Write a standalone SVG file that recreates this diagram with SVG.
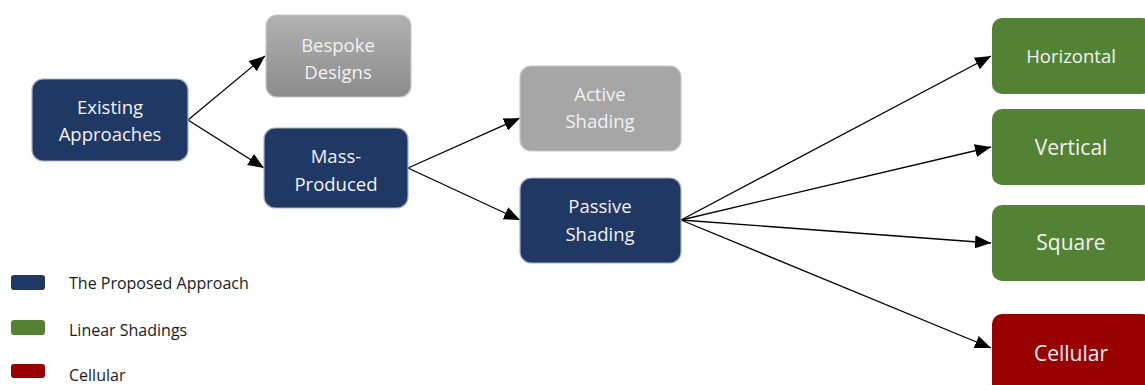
<svg xmlns="http://www.w3.org/2000/svg" width="1145" height="385" viewBox="0 0 1145 385">
  <style>
    .node { stroke-width: 1.2; }
    .navy { fill: #203864; stroke: #a9b1c0; }
    .gray { fill: #a6a6a6; stroke: #c8c8c8; }
    .green { fill: #548235; stroke: none; }
    .red { fill: #990000; stroke: none; }
    .label { font-family: "Open Sans", "Liberation Sans", sans-serif; font-size: 18.5px; fill: #f2f2f2; text-anchor: middle; }
    .big { font-size: 21px; }
    .legend { font-family: "Open Sans", "Liberation Sans", sans-serif; font-size: 16px; fill: #1a1a1a; }
    .edge { stroke: #000; stroke-width: 1.3; fill: none; marker-end: url(#arrow); }
  </style>
  <defs>
    <marker id="arrow" viewBox="0 0 10 10" refX="10" refY="5" markerWidth="16" markerHeight="13" markerUnits="userSpaceOnUse" orient="auto" preserveAspectRatio="none">
      <path d="M0,0 L10,5 L0,10 z" fill="#000"/>
    </marker>
    <linearGradient id="grayGrad" x1="0" y1="0" x2="0" y2="1">
      <stop offset="0" stop-color="#b1b1b1"/>
      <stop offset="1" stop-color="#8c8c8c"/>
    </linearGradient>
  </defs>
  <rect width="1145" height="385" fill="#ffffff"/>

  <g id="connectors">
    <line class="edge" x1="188" y1="120" x2="265" y2="56"/>
    <line class="edge" x1="188" y1="120" x2="264" y2="168"/>
    <line class="edge" x1="408" y1="168" x2="520" y2="118"/>
    <line class="edge" x1="408" y1="168" x2="520" y2="220"/>
    <line class="edge" x1="681" y1="220" x2="991" y2="56"/>
    <line class="edge" x1="681" y1="220" x2="991" y2="147"/>
    <line class="edge" x1="681" y1="220" x2="991" y2="243"/>
    <line class="edge" x1="681" y1="220" x2="991" y2="348"/>
  </g>

  <g id="existing-approaches">
    <rect class="node navy" x="32" y="79" width="156" height="82" rx="11"/>
    <text class="label" x="110" y="114">Existing</text>
    <text class="label" x="110" y="141">Approaches</text>
  </g>

  <g id="bespoke-designs">
    <rect class="node" x="266" y="15" width="145" height="82" rx="11" fill="url(#grayGrad)" stroke="#c8c8c8"/>
    <text class="label" x="338" y="52">Bespoke</text>
    <text class="label" x="338" y="79">Designs</text>
  </g>

  <g id="mass-produced">
    <rect class="node navy" x="264" y="128" width="144" height="80" rx="11"/>
    <text class="label" x="336" y="163">Mass-</text>
    <text class="label" x="336" y="191">Produced</text>
  </g>

  <g id="active-shading">
    <rect class="node gray" x="520" y="66" width="161" height="85" rx="11"/>
    <text class="label" x="600" y="101">Active</text>
    <text class="label" x="600" y="128">Shading</text>
  </g>

  <g id="passive-shading">
    <rect class="node navy" x="520" y="178" width="161" height="85" rx="11" stroke="none"/>
    <text class="label" x="600" y="213">Passive</text>
    <text class="label" x="600" y="241">Shading</text>
  </g>

  <g id="horizontal">
    <rect class="node green" x="992" y="18" width="160" height="76" rx="10"/>
    <text class="label" x="1071" y="63">Horizontal</text>
  </g>

  <g id="vertical">
    <rect class="node green" x="992" y="109" width="160" height="76" rx="10"/>
    <text class="label big" x="1071" y="155">Vertical</text>
  </g>

  <g id="square">
    <rect class="node green" x="992" y="205" width="160" height="76" rx="10"/>
    <text class="label big" x="1071" y="250">Square</text>
  </g>

  <g id="cellular">
    <rect class="node red" x="992" y="314" width="160" height="80" rx="10"/>
    <text class="label big" x="1071" y="361">Cellular</text>
  </g>

  <g id="legend">
    <rect x="11" y="275" width="34" height="15" rx="3" fill="#203864"/>
    <text class="legend" x="69" y="289">The Proposed Approach</text>
    <rect x="11" y="320" width="34" height="15" rx="3" fill="#548235"/>
    <text class="legend" x="69" y="336">Linear Shadings</text>
    <rect x="11" y="364" width="34" height="14" rx="3" fill="#990000"/>
    <text class="legend" x="69" y="381">Cellular</text>
  </g>
</svg>
